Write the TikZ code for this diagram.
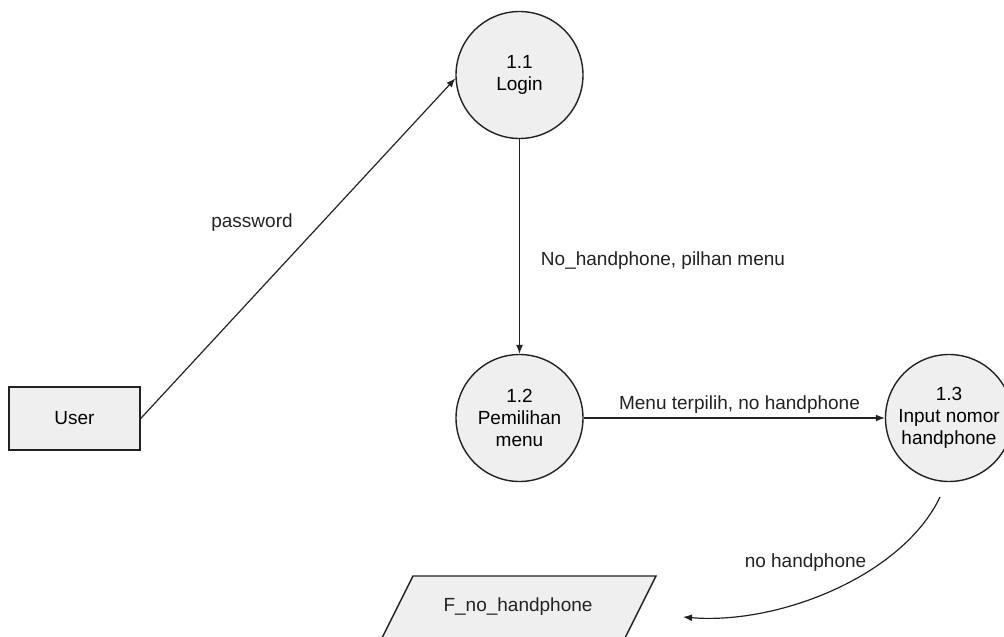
\documentclass[tikz,border=0pt]{standalone}
\usepackage{fontspec}
\setmainfont{Liberation Sans}
\usetikzlibrary{arrows.meta}
\definecolor{shapefill}{HTML}{EFEFEF}
\definecolor{ink}{HTML}{222222}
\tikzset{
  process/.style={circle, draw=ink, line width=1.4pt, fill=shapefill, minimum size=127pt, inner sep=0pt, align=center, font=\fontsize{19}{22}\selectfont},
  entity/.style={rectangle, draw=ink, line width=1.4pt, fill=shapefill, minimum width=131pt, minimum height=63pt, inner sep=0pt, font=\fontsize{19}{22}\selectfont},
  lbl/.style={font=\fontsize{19}{22}\selectfont, text=ink, inner sep=0pt},
  flow/.style={draw=ink, line width=1.2pt, -{Latex[length=9pt,width=7pt]}}
}
\begin{document}
\begin{tikzpicture}[x=1pt,y=-1pt]
\useasboundingbox (0,0) rectangle (1004,637);
\clip (0,0) rectangle (1004,637);
\node[process] (p1) at (519.5,75) {1.1\\Login};
\node[process] (p2) at (519.5,418) {1.2\\Pemilihan\\menu};
\node[process] (p3) at (949,418) {1.3\\Input nomor\\handphone};
\node[entity] (user) at (74.5,418.5) {User};
\draw[draw=ink, line width=1.4pt, fill=shapefill] (413,576) -- (656,576) -- (624,640) -- (381,640) -- cycle;
\node[lbl] (store) at (518,607) {F\_no\_handphone};
\coordinate (cs) at (940,497);
\coordinate (ce) at (683,617);
\draw[flow] (user.east) -- (p1.183);
\draw[flow] (p1.south) -- (p2.north);
\draw[flow] (p2.east) -- (p3.west);
\draw[flow] (cs) .. controls (903,575) and (780,625) .. (ce);
\node[lbl] (l1) at (252,223) {password};
\node[lbl] (l2) at (663,261) {No\_handphone, pilhan menu};
\node[lbl] (l3) at (739.5,405) {Menu terpilih, no handphone};
\node[lbl] (l4) at (805.5,563) {no handphone};
\end{tikzpicture}
\end{document}
